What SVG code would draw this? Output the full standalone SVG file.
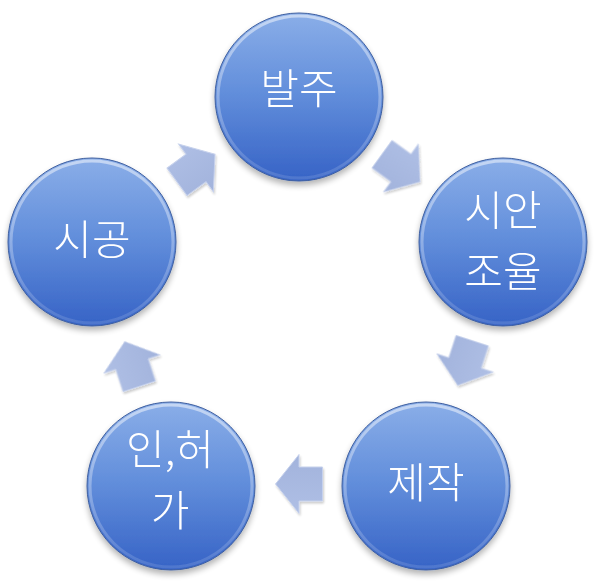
<svg xmlns="http://www.w3.org/2000/svg" width="597" height="583" viewBox="0 0 597 583">
<defs>
<linearGradient id="cg" x1="0" y1="0" x2="0" y2="1">
<stop offset="0" stop-color="#8aaee8"/>
<stop offset="0.45" stop-color="#6490dc"/>
<stop offset="1" stop-color="#3663c6"/>
</linearGradient>
<linearGradient id="rim" x1="0" y1="0" x2="0" y2="1">
<stop offset="0" stop-color="#ffffff" stop-opacity="0.5"/>
<stop offset="0.5" stop-color="#ffffff" stop-opacity="0.3"/>
<stop offset="1" stop-color="#ffffff" stop-opacity="0.12"/>
</linearGradient>
<linearGradient id="ag" x1="0" y1="0" x2="0" y2="1">
<stop offset="0" stop-color="#afbfe5"/>
<stop offset="1" stop-color="#a2b3dc"/>
</linearGradient>
<filter id="sh" x="-20%" y="-20%" width="140%" height="150%">
<feGaussianBlur in="SourceAlpha" stdDeviation="3"/>
<feOffset dy="4" result="b"/>
<feComponentTransfer><feFuncA type="linear" slope="0.3"/></feComponentTransfer>
<feMerge><feMergeNode/><feMergeNode in="SourceGraphic"/></feMerge>
</filter>
<filter id="ash" x="-30%" y="-30%" width="160%" height="160%">
<feGaussianBlur in="SourceAlpha" stdDeviation="1.2"/>
<feOffset dx="1" dy="1.5"/>
<feComponentTransfer><feFuncA type="linear" slope="0.2"/></feComponentTransfer>
<feMerge><feMergeNode/><feMergeNode in="SourceGraphic"/></feMerge>
</filter>
<g id="ball">
<circle r="84" fill="url(#cg)" stroke="#3f5f9f" stroke-width="1"/>
<circle r="81" fill="none" stroke="url(#rim)" stroke-width="3"/>
</g>
<polygon id="arr" points="23.5,0 0,-29.5 0,-17 -23.5,-17 -23.5,17 0,17 0,29.5" fill="url(#ag)" stroke="#c6d1ec" stroke-width="1"/>
</defs>
<style>
.t{font-family:"Noto Sans CJK KR","Noto Sans CJK SC",sans-serif;font-size:42px;font-weight:300;fill:#ffffff;text-anchor:middle}
</style>
<g id="connectors" filter="url(#ash)">
<use href="#arr" transform="translate(196,168) rotate(-36)"/>
<use href="#arr" transform="translate(401,168) rotate(36)"/>
<use href="#arr" transform="translate(465,363) rotate(108)"/>
<use href="#arr" transform="translate(299,484) rotate(180)"/>
<use href="#arr" transform="translate(132,364) rotate(-108)"/>
</g>
<g id="n1" filter="url(#sh)">
<use href="#ball" transform="translate(299,97)"/>
<text class="t" x="299" y="104">발주</text>
</g>
<g id="n2" filter="url(#sh)">
<use href="#ball" transform="translate(503,242)"/>
<text class="t" x="503" y="226">시안</text>
<text class="t" x="503" y="287">조율</text>
</g>
<g id="n3" filter="url(#sh)">
<use href="#ball" transform="translate(426,486)"/>
<text class="t" x="426" y="498">제작</text>
</g>
<g id="n4" filter="url(#sh)">
<use href="#ball" transform="translate(171,486)"/>
<text class="t" x="170" y="465">인,허</text>
<text class="t" x="170" y="526">가</text>
</g>
<g id="n5" filter="url(#sh)">
<use href="#ball" transform="translate(92,242)"/>
<text class="t" x="92" y="255">시공</text>
</g>
</svg>
